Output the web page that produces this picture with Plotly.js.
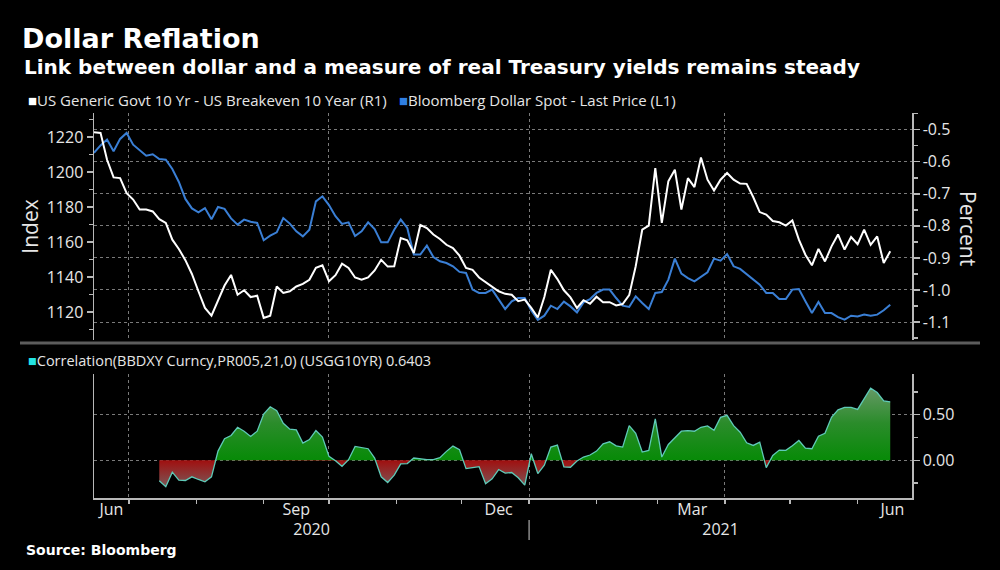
<!DOCTYPE html>
<html>
<head>
<meta charset="utf-8">
<script src="https://cdn.plot.ly/plotly-3.0.1.min.js"></script>
<style>html,body{margin:0;padding:0;background:#000;}#chart{width:1000px;height:570px;}</style>
</head>
<body>
<div id="chart"></div>
<script>
// ---------- data ----------
const dates = [
 '2020-06-15','2020-06-18','2020-06-21','2020-06-24','2020-06-27','2020-06-30','2020-07-03','2020-07-06','2020-07-09','2020-07-12',
 '2020-07-15','2020-07-18','2020-07-21','2020-07-24','2020-07-27','2020-07-30','2020-08-02','2020-08-05','2020-08-08','2020-08-11',
 '2020-08-14','2020-08-17','2020-08-20','2020-08-23','2020-08-26','2020-08-29','2020-09-01','2020-09-04','2020-09-07','2020-09-10',
 '2020-09-13','2020-09-16','2020-09-19','2020-09-22','2020-09-25','2020-09-28','2020-10-01','2020-10-04','2020-10-07','2020-10-10',
 '2020-10-13','2020-10-16','2020-10-19','2020-10-22','2020-10-25','2020-10-28','2020-10-31','2020-11-03','2020-11-06','2020-11-09',
 '2020-11-12','2020-11-15','2020-11-18','2020-11-21','2020-11-24','2020-11-27','2020-11-30','2020-12-03','2020-12-06','2020-12-09',
 '2020-12-12','2020-12-15','2020-12-18','2020-12-21','2020-12-24','2020-12-27','2020-12-30','2021-01-02','2021-01-05','2021-01-08',
 '2021-01-11','2021-01-14','2021-01-17','2021-01-20','2021-01-23','2021-01-26','2021-01-29','2021-02-01','2021-02-04','2021-02-07',
 '2021-02-10','2021-02-13','2021-02-16','2021-02-19','2021-02-22','2021-02-25','2021-02-28','2021-03-03','2021-03-06','2021-03-09',
 '2021-03-12','2021-03-15','2021-03-18','2021-03-21','2021-03-24','2021-03-27','2021-03-30','2021-04-02','2021-04-05','2021-04-08',
 '2021-04-11','2021-04-14','2021-04-17','2021-04-20','2021-04-23','2021-04-26','2021-04-29','2021-05-02','2021-05-05','2021-05-08',
 '2021-05-11','2021-05-14','2021-05-17','2021-05-20','2021-05-23','2021-05-26','2021-05-29','2021-06-01','2021-06-04','2021-06-07',
 '2021-06-10','2021-06-13','2021-06-16'
];

// US Generic Govt 10 Yr - US Breakeven 10 Year (R1), percent
const realYield = [
 -0.508,-0.510,-0.594,-0.649,-0.651,-0.698,-0.718,-0.749,-0.749,-0.755,
 -0.779,-0.791,-0.843,-0.872,-0.907,-0.950,-1.004,-1.056,-1.080,-1.030,
 -0.986,-0.953,-1.015,-1.001,-1.022,-1.018,-1.087,-1.080,-0.989,-1.009,
 -1.004,-0.989,-0.981,-0.968,-0.931,-0.923,-0.973,-0.954,-0.918,-0.931,
 -0.961,-0.968,-0.961,-0.939,-0.906,-0.927,-0.926,-0.838,-0.845,-0.885,
 -0.797,-0.807,-0.827,-0.841,-0.859,-0.869,-0.893,-0.931,-0.937,-0.961,
 -0.976,-0.989,-1.004,-1.012,-1.015,-1.035,-1.030,-1.056,-1.086,-1.022,
 -0.937,-0.966,-1.001,-1.023,-1.056,-1.032,-1.043,-1.021,-1.038,-1.038,
 -1.048,-1.044,-1.016,-0.926,-0.812,-0.799,-0.620,-0.791,-0.661,-0.625,
 -0.749,-0.651,-0.679,-0.587,-0.656,-0.690,-0.656,-0.635,-0.656,-0.668,
 -0.669,-0.710,-0.757,-0.765,-0.785,-0.789,-0.799,-0.783,-0.843,-0.890,
 -0.923,-0.872,-0.911,-0.864,-0.827,-0.874,-0.835,-0.857,-0.812,-0.859,
 -0.833,-0.916,-0.879
];

// Bloomberg Dollar Spot - Last Price (L1), index
const dollarIndex = [
 1210.9,1215.2,1218.5,1211.8,1218.9,1222.3,1215.6,1212.4,1209.3,1210.1,
 1207.4,1207.0,1201.7,1194.3,1184.6,1179.2,1177.0,1179.4,1173.0,1180.0,
 1178.9,1173.5,1169.9,1172.8,1171.6,1170.9,1161.0,1163.6,1165.5,1173.7,
 1170.5,1166.1,1163.2,1167.0,1183.2,1186.1,1181.1,1174.7,1170.3,1171.2,
 1163.4,1166.1,1171.2,1167.4,1159.8,1159.8,1167.0,1172.8,1168.0,1152.8,
 1152.8,1157.9,1151.4,1149.0,1148.0,1146.1,1142.9,1142.3,1132.8,1130.9,
 1130.9,1132.8,1127.4,1121.7,1126.1,1128.0,1128.0,1120.9,1115.5,1117.9,
 1123.6,1121.7,1125.9,1123.2,1119.8,1125.5,1127.4,1130.9,1132.8,1132.8,
 1128.0,1123.6,1122.9,1128.9,1125.1,1121.7,1130.9,1131.4,1138.5,1150.5,
 1141.9,1139.4,1137.5,1140.0,1142.7,1150.5,1149.3,1153.1,1146.1,1144.6,
 1141.5,1138.5,1135.6,1130.9,1130.9,1127.4,1127.4,1132.8,1133.1,1126.1,
 1119.4,1125.7,1119.4,1119.4,1117.1,1115.6,1117.9,1117.5,1118.5,1117.9,
 1118.5,1121.0,1124.2
];

// Correlation(BBDXY Curncy,PR005,21,0) (USGG10YR)
const correlation = [
 null,null,null,null,null,null,null,null,null,null,
 -0.225,-0.290,-0.130,-0.217,-0.221,-0.181,-0.210,-0.236,-0.181,0.101,
 0.236,0.272,0.362,0.319,0.261,0.319,0.507,0.587,0.543,0.406,
 0.341,0.333,0.188,0.228,0.326,0.254,0.043,-0.004,-0.065,0.007,
 0.152,0.141,0.127,0.025,-0.181,-0.243,-0.163,-0.040,-0.036,0.025,
 0.014,0.007,0.007,0.029,0.098,0.156,0.116,-0.091,-0.080,-0.069,
 -0.257,-0.203,-0.101,-0.141,-0.134,-0.192,-0.272,0.072,-0.145,-0.054,
 0.145,0.167,-0.072,-0.076,-0.007,0.036,0.058,0.101,0.181,0.203,
 0.159,0.145,0.380,0.297,0.091,0.109,0.453,0.036,0.174,0.243,
 0.319,0.326,0.319,0.362,0.377,0.330,0.471,0.493,0.380,0.308,
 0.192,0.163,0.199,-0.080,0.054,0.112,0.109,0.159,0.217,0.134,
 0.127,0.264,0.297,0.471,0.554,0.580,0.580,0.558,0.670,0.790,
 0.743,0.652,0.6403
];

const seriesNames = [
 'US Generic Govt 10 Yr - US Breakeven 10 Year (R1)',
 'Bloomberg Dollar Spot - Last Price (L1)',
 'Correlation(BBDXY Curncy,PR005,21,0) (USGG10YR) 0.6403'
];

const xRange = ['2020-06-15', '2021-06-26'];
const monthStarts = ['2020-07-01','2020-08-01','2020-09-01','2020-10-01','2020-11-01','2020-12-01',
                     '2021-01-01','2021-02-01','2021-03-01','2021-04-01','2021-05-01','2021-06-01'];
const quarterStarts = ['2020-07-01','2020-10-01','2021-01-01','2021-04-01'];
const monthLabelDates = ['2020-06-23','2020-09-16','2020-12-18','2021-03-17','2021-06-17'];
const monthLabels = ['Jun','Sep','Dec','Mar','Jun'];
const yearLabelDates = ['2020-09-23','2021-03-30'];
const yearLabels = ['2020','2021'];
const yearBoundary = '2021-01-01';

const indexTicks = [1120,1140,1160,1180,1200,1220];
const indexMinor = [1110,1130,1150,1170,1190,1210,1230];
const percentTicks = [-1.1,-1.0,-0.9,-0.8,-0.7,-0.6,-0.5];
const percentTickText = ['-1.1','-1.0','-0.9','-0.8','-0.7','-0.6','-0.5'];
const percentMinor = [-1.15,-1.05,-0.95,-0.85,-0.75,-0.65,-0.55,-0.45];
const corrTicks = [0, 0.5];
const corrTickText = ['0.00','0.50'];
const corrMinor = [-0.25, 0.25, 0.75];

// ---------- styling ----------
const BG = '#000000';
const TXT = '#e6e6e6';
const AXC = '#b8b8b8';
const GRID = '#7a7a7a';
const WHITE_LINE = '#ffffff';
const BLUE_LINE = '#3a7fd5';
const CORR_LINE = '#5fcab8';
const FONT = 'Open Sans, Noto Sans, sans-serif';
const BOLDFONT = 'DejaVu Sans, sans-serif';

// split correlation into positive / negative parts with zero crossings
const toMs = d => Date.parse(d);
const posX = [], posY = [], negX = [], negY = [], lineX = [], lineY = [];
let prevT = null, prevV = null;
for (let i = 0; i < dates.length; i++) {
  const v = correlation[i];
  if (v === null) continue;
  const t = toMs(dates[i]);
  if (prevV !== null && prevV * v < 0) {
    const f = prevV / (prevV - v);
    const tm = prevT + f * (t - prevT);
    posX.push(tm); posY.push(0);
    negX.push(tm); negY.push(0);
  }
  posX.push(t); posY.push(Math.max(v, 0));
  negX.push(t); negY.push(Math.min(v, 0));
  lineX.push(t); lineY.push(v);
  prevT = t; prevV = v;
}

const traces = [
  { x: dates, y: dollarIndex, xaxis: 'x', yaxis: 'y', type: 'scatter', mode: 'lines',
    name: seriesNames[1], line: { color: BLUE_LINE, width: 2 }, hoverinfo: 'x+y' },
  { x: dates, y: realYield, xaxis: 'x', yaxis: 'y2', type: 'scatter', mode: 'lines',
    name: seriesNames[0], line: { color: WHITE_LINE, width: 2 }, hoverinfo: 'x+y' },
  { x: posX, y: posY, xaxis: 'x2', yaxis: 'y3', type: 'scatter', mode: 'lines',
    line: { width: 0, color: 'rgba(0,0,0,0)' }, fill: 'tozeroy',
    fillgradient: { type: 'vertical', start: 0, stop: 0.82,
      colorscale: [[0, '#078a07'], [0.5, '#2b8c2b'], [1, '#6a9a6a']] },
    hoverinfo: 'skip', showlegend: false },
  { x: negX, y: negY, xaxis: 'x2', yaxis: 'y3', type: 'scatter', mode: 'lines',
    line: { width: 0, color: 'rgba(0,0,0,0)' }, fill: 'tozeroy',
    fillgradient: { type: 'vertical', start: -0.3, stop: 0,
      colorscale: [[0, '#7a5a5a'], [1, '#a00f0f']] },
    hoverinfo: 'skip', showlegend: false },
  { x: lineX, y: lineY, xaxis: 'x2', yaxis: 'y3', type: 'scatter', mode: 'lines',
    name: seriesNames[2], line: { color: CORR_LINE, width: 1.3 }, hoverinfo: 'x+y' },
  { x: monthLabelDates, y: monthLabelDates.map(() => null), xaxis: 'x3', yaxis: 'y3',
    type: 'scatter', mode: 'lines', hoverinfo: 'skip', showlegend: false },
  { x: yearLabelDates, y: yearLabelDates.map(() => null), xaxis: 'x4', yaxis: 'y3',
    type: 'scatter', mode: 'lines', hoverinfo: 'skip', showlegend: false }
];

const XD = [0.094, 0.912];
const topDomain = [(570 - 340) / 570, (570 - 113) / 570];
const botDomain = [(570 - 498) / 570, (570 - 374) / 570];
const tickFont = { family: FONT, size: 16, color: TXT };
const py = p => 1 - p / 570;

const layout = {
  width: 1000, height: 570,
  paper_bgcolor: BG, plot_bgcolor: BG,
  margin: { l: 0, r: 0, t: 0, b: 0 },
  showlegend: false,
  title: { text: 'Dollar Reflation', x: 0.022, xanchor: 'left', xref: 'paper',
           y: py(39), yanchor: 'middle', yref: 'paper',
           font: { family: BOLDFONT, size: 27, color: '#ffffff', weight: 700 } },
  xaxis: { domain: XD, anchor: 'y', type: 'date', range: xRange, autorange: false,
           tickmode: 'array', tickvals: quarterStarts, showticklabels: false, ticks: '',
           showgrid: true, gridcolor: GRID, griddash: 'dot', gridwidth: 1,
           showline: false, zeroline: false },
  yaxis: { domain: topDomain, anchor: 'x', side: 'left', range: [1104, 1233.7], autorange: false,
           tickmode: 'array', tickvals: indexTicks, ticks: 'outside', ticklen: 6, tickcolor: AXC, tickwidth: 1.5,
           minor: { tickmode: 'array', tickvals: indexMinor, ticks: 'outside', ticklen: 4, tickcolor: AXC, showgrid: false },
           tickfont: tickFont, showgrid: false, zeroline: false,
           showline: true, linecolor: AXC, linewidth: 1.5,
           title: { text: 'Index', font: { family: FONT, size: 21, color: TXT }, standoff: 2 },
           automargin: false },
  yaxis2: { domain: topDomain, anchor: 'x', overlaying: 'y', side: 'right', range: [-1.156, -0.448], autorange: false,
            tickmode: 'array', tickvals: percentTicks, ticktext: percentTickText,
            ticks: 'outside', ticklen: 6, tickcolor: AXC, tickwidth: 1.5,
            minor: { tickmode: 'array', tickvals: percentMinor, ticks: 'outside', ticklen: 4, tickcolor: AXC, showgrid: false },
            tickfont: tickFont, showgrid: true, gridcolor: GRID, griddash: 'dot', gridwidth: 1,
            zeroline: false, showline: true, linecolor: AXC, linewidth: 1.5, automargin: false },
  xaxis2: { domain: XD, anchor: 'y3', type: 'date', range: xRange, autorange: false,
            tickmode: 'array', tickvals: quarterStarts, showticklabels: false,
            ticks: 'outside', ticklen: 4, tickcolor: AXC, tickwidth: 1.5,
            minor: { tickmode: 'array', tickvals: monthStarts, ticks: 'outside', ticklen: 4, tickcolor: AXC, tickwidth: 1.5, showgrid: false },
            showgrid: true, gridcolor: GRID, griddash: 'dot', gridwidth: 1,
            showline: true, linecolor: AXC, linewidth: 1.5, zeroline: false },
  xaxis3: { overlaying: 'x2', anchor: 'y3', type: 'date', range: xRange, autorange: false,
            tickmode: 'array', tickvals: monthLabelDates, ticktext: monthLabels,
            ticks: '', showgrid: false, showline: false, zeroline: false, tickfont: tickFont },
  xaxis4: { overlaying: 'x2', anchor: 'y3', type: 'date', range: xRange, autorange: false,
            tickmode: 'array', tickvals: yearLabelDates, ticktext: yearLabels, ticklabelstandoff: 20,
            ticks: '', showgrid: false, showline: false, zeroline: false, tickfont: tickFont },
  yaxis3: { domain: botDomain, anchor: 'x2', side: 'right', range: [-0.413, 0.946], autorange: false,
            tickmode: 'array', tickvals: corrTicks, ticktext: corrTickText,
            ticks: 'outside', ticklen: 6, tickcolor: AXC, tickwidth: 1.5,
            minor: { tickmode: 'array', tickvals: corrMinor, ticks: 'outside', ticklen: 4, tickcolor: AXC, showgrid: false },
            tickfont: tickFont, showgrid: true, gridcolor: GRID, griddash: 'dot', gridwidth: 1,
            zeroline: false, showline: true, mirror: true, linecolor: AXC, linewidth: 1.5, automargin: false },
  shapes: [
    { type: 'line', xref: 'paper', yref: 'paper', x0: 0.02, x1: 0.98, y0: py(343), y1: py(343),
      line: { color: '#5c5c5c', width: 3 } },
    { type: 'line', xref: 'x2', yref: 'paper', x0: yearBoundary, x1: yearBoundary, y0: py(520), y1: py(540),
      line: { color: '#8a8a8a', width: 1.5 } }
  ],
  annotations: [
    { text: 'Link between dollar and a measure of real Treasury yields remains steady',
      xref: 'paper', yref: 'paper', x: 0.022, y: py(67), xanchor: 'left', yanchor: 'middle', showarrow: false,
      font: { family: BOLDFONT, size: 20, color: '#ffffff', weight: 700 } },
    { text: '<span style="color:#ffffff">■</span>' + seriesNames[0],
      xref: 'paper', yref: 'paper', x: 0.026, y: py(100), xanchor: 'left', yanchor: 'middle', showarrow: false,
      font: { family: FONT, size: 15, color: TXT } },
    { text: '<span style="color:#2f7fe3">■</span>' + seriesNames[1],
      xref: 'paper', yref: 'paper', x: 0.397, y: py(100), xanchor: 'left', yanchor: 'middle', showarrow: false,
      font: { family: FONT, size: 15, color: TXT } },
    { text: '<span style="color:#22e3e3">■</span>' + seriesNames[2],
      xref: 'paper', yref: 'paper', x: 0.026, y: py(360), xanchor: 'left', yanchor: 'middle', showarrow: false,
      font: { family: FONT, size: 14.5, color: TXT } },
    { text: 'Percent', textangle: 90,
      xref: 'paper', yref: 'paper', x: 0.968, y: py(228), xanchor: 'center', yanchor: 'middle', showarrow: false,
      font: { family: FONT, size: 21, color: TXT } },
    { text: 'Source: Bloomberg',
      xref: 'paper', yref: 'paper', x: 0.024, y: py(550), xanchor: 'left', yanchor: 'middle', showarrow: false,
      font: { family: BOLDFONT, size: 14, color: '#ffffff', weight: 700 } }
  ]
};

Plotly.newPlot('chart', traces, layout, { displayModeBar: false, staticPlot: true });
</script>
</body>
</html>
